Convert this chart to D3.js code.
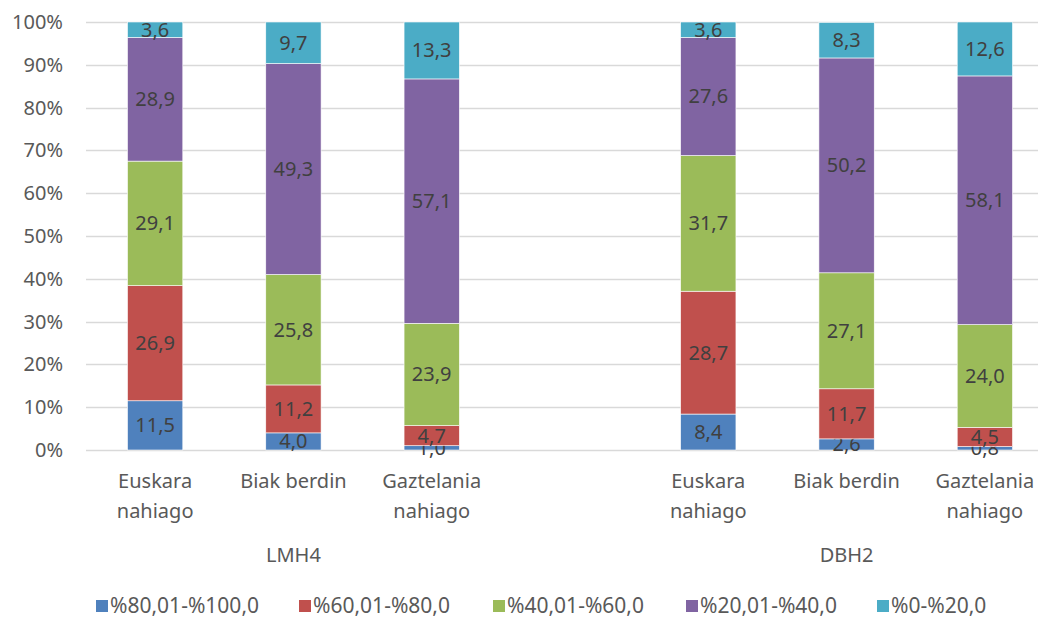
<!DOCTYPE html>
<html lang="eu">
<head>
    <meta charset="utf-8">
    <title>LMH4 / DBH2</title>
    <script src="https://d3js.org/d3.v7.min.js"></script>
</head>
<style type="text/css">
    body { margin: 0; background: #fff; }
    svg text { font-family: "Noto Sans", "Open Sans", sans-serif; }
    .tick-label { fill: #595959; font-size: 20px; }
    .legend text { font-size: 21px; }
    .val-label { fill: #404040; font-size: 20px; text-anchor: middle; }
    .grid line { stroke: #d9d9d9; stroke-width: 1.3; }
</style>
<body>
<script>
    // categories (one empty slot between the two groups)
    var categories = ["Euskara\nnahiago", "Biak berdin", "Gaztelania\nnahiago"];
    var groups = ["LMH4", "DBH2"];
    var seriesNames = ["%80,01-%100,0", "%60,01-%80,0", "%40,01-%60,0", "%20,01-%40,0", "%0-%20,0"];
    var colors = ["#4f81bd", "#c0504d", "#9bbb59", "#8064a2", "#4bacc6"];

    // values per series, in the order LMH4 x3 then DBH2 x3
    var s80_100 = [11.5, 4.0, 1.0, 8.4, 2.6, 0.8];
    var s60_80  = [26.9, 11.2, 4.7, 28.7, 11.7, 4.5];
    var s40_60  = [29.1, 25.8, 23.9, 31.7, 27.1, 24.0];
    var s20_40  = [28.9, 49.3, 57.1, 27.6, 50.2, 58.1];
    var s0_20   = [3.6, 9.7, 13.3, 3.6, 8.3, 12.6];

    var yTicks = [0, 10, 20, 30, 40, 50, 60, 70, 80, 90, 100];

    var W = 1038, H = 618;
    var plotL = 86, plotR = 1054, plotT = 22, plotB = 450;

    // slot keys: 3 bars, a blank slot, 3 bars
    var slots = ["L0", "L1", "L2", "gap", "D0", "D1", "D2"];
    var barSlots = ["L0", "L1", "L2", "D0", "D1", "D2"];

    var x = d3.scaleBand().domain(slots).range([plotL, plotR])
        .paddingInner(0.6).paddingOuter(0.3);
    var y = d3.scaleLinear().domain([0, 100]).range([plotB, plotT]);

    var svg = d3.select("body").append("svg")
        .attr("width", W).attr("height", H);

    // gridlines
    svg.append("g").attr("class", "grid")
        .selectAll("line").data(yTicks).enter().append("line")
        .attr("x1", plotL).attr("x2", plotR)
        .attr("y1", function(d){ return Math.round(y(d)) + 0.5; })
        .attr("y2", function(d){ return Math.round(y(d)) + 0.5; });

    // y tick labels
    svg.append("g").selectAll("text").data(yTicks).enter().append("text")
        .attr("class", "tick-label")
        .attr("x", 63).attr("y", function(d){ return y(d); })
        .attr("dy", "0.35em").attr("text-anchor", "end")
        .text(function(d){ return d + "%"; });

    // stack the data
    var allSeries = [s80_100, s60_80, s40_60, s20_40, s0_20];
    var rows = barSlots.map(function(slot, i){
        var r = { slot: slot };
        seriesNames.forEach(function(n, k){ r[n] = allSeries[k][i]; });
        return r;
    });
    var stacked = d3.stack().keys(seriesNames)(rows);

    var layer = svg.selectAll("g.layer").data(stacked).enter().append("g")
        .attr("class", "layer")
        .attr("fill", function(d, i){ return colors[i]; });

    layer.selectAll("rect").data(function(d){ return d; }).enter().append("rect")
        .attr("x", function(d){ return x(d.data.slot); })
        .attr("width", x.bandwidth())
        .attr("y", function(d){ return y(d[1]); })
        .attr("height", function(d){ return y(d[0]) - y(d[1]); })
        .attr("stroke", "#fff").attr("stroke-width", 0.6);

    // value labels centred in each segment
    layer.selectAll("text").data(function(d, k){
            return d.map(function(p, i){ return { p: p, v: allSeries[k][i] }; });
        }).enter().append("text")
        .attr("class", "val-label")
        .attr("x", function(d){ return x(d.p.data.slot) + x.bandwidth() / 2; })
        .attr("y", function(d){ return y((d.p[0] + d.p[1]) / 2); })
        .attr("dy", "0.35em")
        .text(function(d){ return d.v.toFixed(1).replace(".", ","); });

    // category labels
    var catG = svg.append("g");
    barSlots.forEach(function(slot, i){
        var lines = categories[i % 3].split("\n");
        var cx = x(slot) + x.bandwidth() / 2;
        var t = catG.append("text").attr("class", "tick-label")
            .attr("text-anchor", "middle")
            .attr("x", cx)
            .attr("y", 488);
        lines.forEach(function(l, j){
            t.append("tspan").attr("x", cx)
                .attr("dy", j === 0 ? 0 : 30).text(l);
        });
    });

    // group labels
    svg.selectAll("text.group").data(groups).enter().append("text")
        .attr("class", "tick-label group")
        .attr("text-anchor", "middle")
        .attr("x", function(d, i){ var s = i === 0 ? "L1" : "D1"; return x(s) + x.bandwidth() / 2; })
        .attr("y", 562)
        .text(function(d){ return d; });

    // legend
    var legendX = [96, 299, 493, 686, 877];
    var leg = svg.selectAll("g.legend").data(seriesNames).enter().append("g")
        .attr("class", "legend")
        .attr("transform", function(d, i){ return "translate(" + legendX[i] + ",606)"; });
    leg.append("rect").attr("x", 0).attr("y", -6).attr("width", 12).attr("height", 12)
        .attr("fill", function(d, i){ return colors[i]; });
    leg.append("text").attr("class", "tick-label")
        .attr("x", 14).attr("dy", "0.35em")
        .text(function(d){ return d; });
</script>
</body>
</html>
